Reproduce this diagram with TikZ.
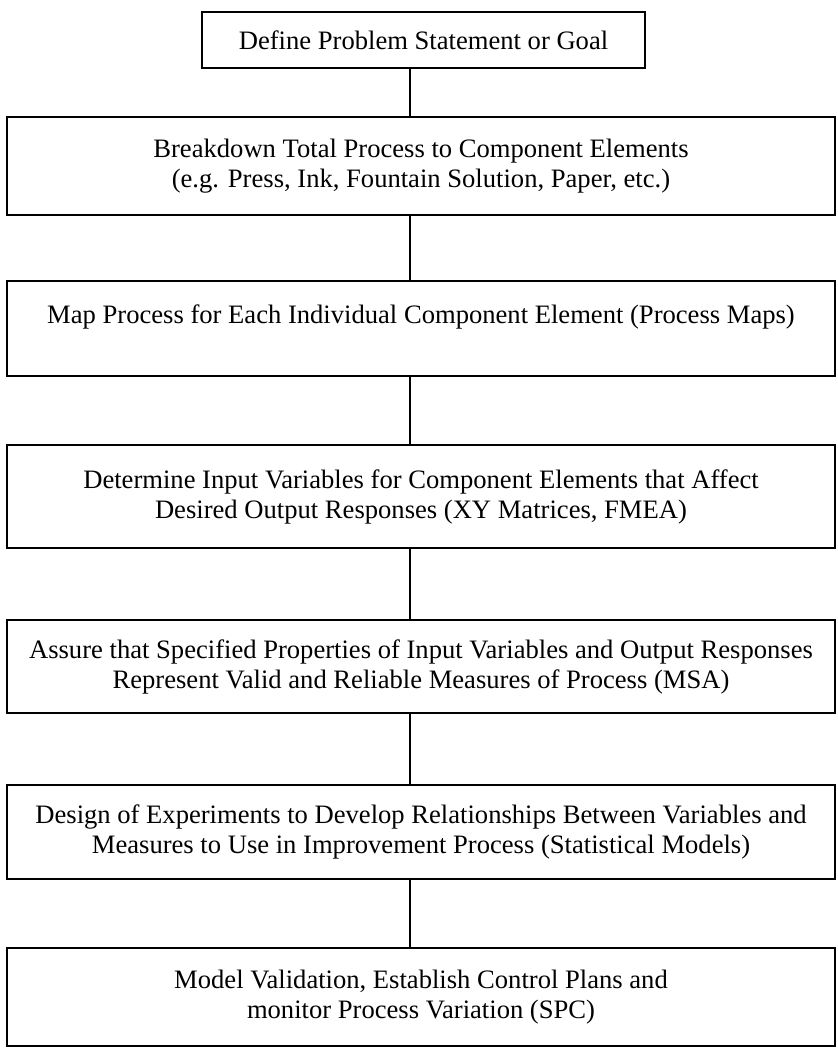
\documentclass[tikz,border=0pt]{standalone}
\usepackage{fontspec}
\setmainfont{Liberation Serif}
\tikzset{
  caja/.style={draw, line width=1.5pt, align=center, inner sep=0pt,
    font=\fontsize{26.6}{30}\selectfont},
  ancha/.style={caja, minimum width=828pt},
  linea/.style={line width=1.3pt}
}
\begin{document}
\begin{tikzpicture}[x=1pt,y=-1pt]
    		%marco
    		\useasboundingbox (0,0) rectangle (837,1048);
    		\coordinate (spine) at (410,0);
  		%%%% CAJAS!!!
  		\node[caja, minimum width=443pt, minimum height=56pt] at (423.5,40) (defn) {Define Problem Statement or Goal};
  		\node[ancha, minimum height=98pt] at (421,166) (brk) {Breakdown Total Process to Component Elements\\(e.g. Press, Ink, Fountain Solution, Paper, etc.)};
  		\node[ancha, minimum height=95pt] at (421,328.5) (map) {Map Process for Each Individual Component Element (Process Maps)\\[-2pt]\mbox{}};
  		\node[ancha, minimum height=103pt] at (421,496.5) (det) {Determine Input Variables for Component Elements that Affect\\Desired Output Responses (XY Matrices, FMEA)};
  		\node[ancha, minimum height=93pt] at (421,666.5) (asr) {Assure that Specified Properties of Input Variables and Output Responses\\Represent Valid and Reliable Measures of Process (MSA)};
  		\node[ancha, minimum height=94pt] at (421,832) (doe) {Design of Experiments to Develop Relationships Between Variables and\\Measures to Use in Improvement Process (Statistical Models)};
  		\node[ancha, minimum height=98pt] at (421,997) (mv) {Model Validation, Establish Control Plans and\\monitor Process Variation (SPC)};
  		%%%LINEAS
  		\draw[linea] (defn.south -| spine) -- (brk.north -| spine);
  		\draw[linea] (brk.south -| spine) -- (map.north -| spine);
  		\draw[linea] (map.south -| spine) -- (det.north -| spine);
  		\draw[linea] (det.south -| spine) -- (asr.north -| spine);
  		\draw[linea] (asr.south -| spine) -- (doe.north -| spine);
  		\draw[linea] (doe.south -| spine) -- (mv.north -| spine);
\end{tikzpicture}
\end{document}
